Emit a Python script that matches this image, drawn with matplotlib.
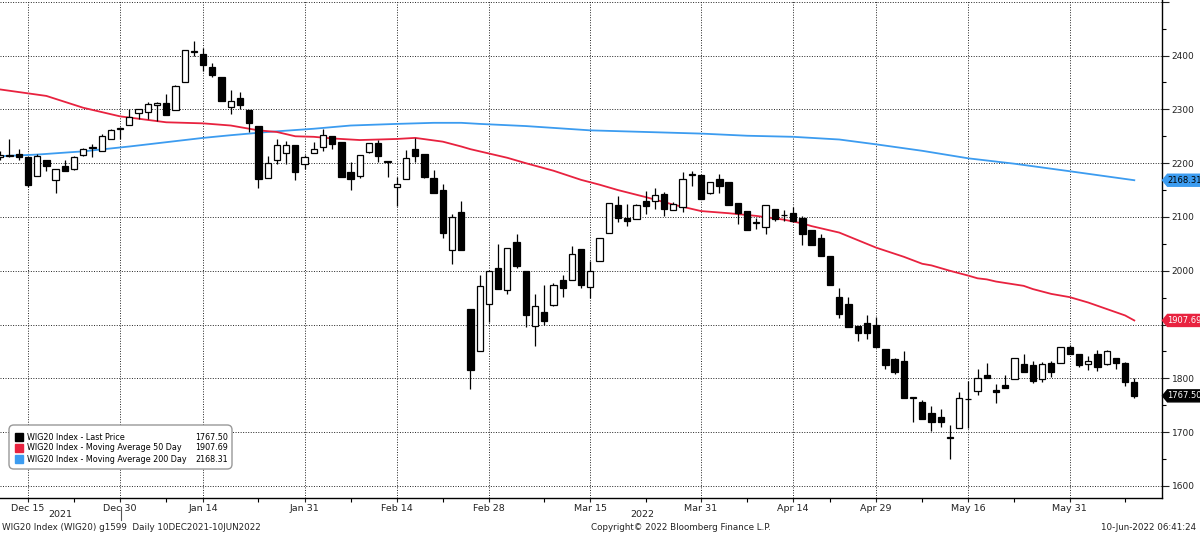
#%%
# WIG20 daily candles with 50 and 200 day moving averages (Bloomberg style)
import matplotlib.pyplot as plt
import numpy as np
from matplotlib.patches import FancyBboxPatch, Rectangle, Polygon
from matplotlib.transforms import IdentityTransform

#%% Data, one candle per trading day (10 Dec 2021 - 9 Jun 2022)
opens = [2212, 2213, 2217, 2212, 2177, 2206, 2169, 2194, 2190, 2216,
         2228, 2222, 2245, 2264, 2271, 2294, 2296, 2309, 2312, 2299,
         2351, 2406, 2403, 2378, 2361, 2304, 2321, 2298, 2270, 2172,
         2205, 2218, 2233, 2199, 2219, 2230, 2250, 2240, 2183, 2176,
         2220, 2237, 2203, 2155, 2170, 2226, 2217, 2173, 2150, 2039,
         2110, 1929, 1850, 1938, 2006, 1965, 2054, 2000, 1898, 1923,
         1937, 1982, 1982, 2040, 1969, 2019, 2071, 2122, 2099, 2096,
         2130, 2130, 2143, 2113, 2118, 2178, 2178, 2144, 2171, 2165,
         2126, 2111, 2089, 2082, 2115, 2103, 2108, 2099, 2076, 2060,
         2028, 1952, 1939, 1898, 1903, 1900, 1854, 1836, 1833, 1764,
         1757, 1735, 1728, 1691, 1708, 1761, 1777, 1807, 1779, 1787,
         1798, 1826, 1824, 1799, 1828, 1829, 1859, 1846, 1826, 1846,
         1826, 1838, 1828, 1793]
highs = [2222, 2245, 2227, 2212, 2217, 2206, 2190, 2205, 2214, 2229,
         2236, 2254, 2264, 2268, 2301, 2301, 2313, 2313, 2328, 2346,
         2411, 2428, 2414, 2386, 2361, 2336, 2332, 2298, 2270, 2214,
         2245, 2241, 2233, 2216, 2240, 2263, 2250, 2240, 2203, 2216,
         2237, 2244, 2204, 2175, 2224, 2246, 2217, 2188, 2162, 2105,
         2129, 1929, 1993, 2000, 2049, 2043, 2068, 2000, 1956, 1973,
         1978, 1992, 2046, 2040, 2019, 2060, 2126, 2139, 2124, 2124,
         2148, 2154, 2146, 2127, 2183, 2186, 2178, 2165, 2180, 2165,
         2126, 2111, 2099, 2122, 2115, 2113, 2118, 2102, 2076, 2069,
         2028, 1968, 1952, 1898, 1918, 1915, 1854, 1838, 1851, 1765,
         1759, 1748, 1743, 1713, 1774, 1796, 1818, 1828, 1789, 1807,
         1837, 1845, 1833, 1831, 1832, 1859, 1862, 1846, 1842, 1852,
         1852, 1838, 1831, 1801]
lows = [2205, 2211, 2205, 2155, 2177, 2185, 2144, 2186, 2188, 2214,
        2211, 2222, 2245, 2245, 2271, 2282, 2282, 2279, 2290, 2299,
        2351, 2400, 2372, 2360, 2316, 2292, 2301, 2258, 2154, 2172,
        2199, 2199, 2169, 2190, 2219, 2223, 2227, 2174, 2151, 2173,
        2218, 2203, 2175, 2120, 2170, 2203, 2173, 2144, 2061, 2012,
        2039, 1781, 1850, 1905, 1966, 1956, 2006, 1895, 1861, 1900,
        1934, 1951, 1982, 1968, 1950, 2019, 2071, 2090, 2084, 2096,
        2106, 2115, 2101, 2113, 2109, 2158, 2134, 2143, 2144, 2123,
        2087, 2076, 2078, 2068, 2093, 2093, 2090, 2048, 2047, 2028,
        1973, 1912, 1896, 1869, 1873, 1859, 1817, 1809, 1764, 1718,
        1725, 1703, 1709, 1651, 1708, 1708, 1769, 1801, 1755, 1782,
        1798, 1811, 1791, 1793, 1803, 1829, 1845, 1821, 1816, 1813,
        1825, 1818, 1785, 1763]
closes = [2216, 2214, 2211, 2160, 2214, 2194, 2190, 2186, 2211, 2227,
          2229, 2251, 2262, 2266, 2286, 2300, 2310, 2312, 2290, 2343,
          2411, 2408, 2383, 2364, 2316, 2316, 2309, 2274, 2170, 2200,
          2233, 2234, 2183, 2211, 2226, 2253, 2235, 2175, 2171, 2216,
          2237, 2213, 2204, 2162, 2210, 2213, 2175, 2144, 2070, 2100,
          2039, 1816, 1971, 2000, 1966, 2043, 2009, 1918, 1934, 1907,
          1973, 1968, 2032, 1973, 1999, 2060, 2126, 2099, 2093, 2122,
          2121, 2140, 2115, 2124, 2171, 2180, 2134, 2165, 2158, 2123,
          2107, 2076, 2090, 2122, 2096, 2104, 2092, 2068, 2047, 2028,
          1973, 1919, 1896, 1884, 1884, 1859, 1825, 1812, 1764, 1764,
          1725, 1718, 1718, 1690, 1764, 1762, 1801, 1801, 1775, 1782,
          1837, 1811, 1796, 1826, 1811, 1859, 1845, 1824, 1833, 1821,
          1850, 1829, 1793, 1767.5]

# Moving averages, read at a set of trading-day positions
ma50_day = [0, 5, 9, 13, 18, 22, 25, 28, 30, 32, 34, 36, 39, 43, 45, 48, 50, 51, 52, 53,
            55, 57, 60, 63, 65, 67, 70, 73, 76, 79, 82, 85, 87, 88, 91, 93, 95, 98, 100,
            101, 103, 105, 106, 107, 108, 111, 112, 114, 116, 118, 120, 122, 123]
ma50_val = [2337, 2325, 2303, 2287, 2276, 2274, 2270, 2261, 2258, 2250, 2249, 2246, 2243,
            2245, 2247, 2240, 2231, 2226, 2222, 2218, 2210, 2200, 2186, 2169, 2160, 2150,
            2137, 2123, 2111, 2107, 2102, 2095, 2088, 2083, 2071, 2057, 2043, 2026, 2013,
            2010, 2000, 1991, 1986, 1984, 1980, 1972, 1966, 1957, 1951, 1941, 1929, 1917,
            1907.69]
ma200_day = [0, 4, 9, 14, 18, 22, 25, 29, 34, 38, 43, 47, 50, 52, 57, 64, 70, 76, 81, 86,
             91, 95, 100, 105, 110, 116, 123]
ma200_val = [2213, 2216, 2222, 2231, 2239, 2247, 2252, 2258, 2264, 2270, 2273, 2275, 2275,
             2273, 2269, 2261, 2258, 2255, 2251, 2249, 2244, 2235, 2223, 2209, 2199, 2185,
             2168.31]

tick_day = [3, 13, 22, 33, 43, 53, 64, 76, 86, 95, 105, 116]
tick_text = ['Dec 15', 'Dec 30', 'Jan 14', 'Jan 31', 'Feb 14', 'Feb 28',
             'Mar 15', 'Mar 31', 'Apr 14', 'Apr 29', 'May 16', 'May 31']
minor_day = [8, 18, 28, 38, 48, 59, 70, 81, 90, 100, 110, 122]

legend_names = ['WIG20 Index - Last Price', 'WIG20 Index - Moving Average 50 Day',
                'WIG20 Index - Moving Average 200 Day']
legend_values = ['1767.50', '1907.69', '2168.31']

red = '#e8223f'
blue = '#3c9cf0'

#%% Figure
plt.rcParams['font.family'] = 'DejaVu Sans'
W, H = 1200.0, 533.0
fig = plt.figure(figsize=(12, 5.33), dpi=100)
ax = fig.add_axes([0.0, 0.0657, 0.9683, 0.9343])

x = np.arange(len(opens))
o = np.array(opens)
c = np.array(closes)

# wicks then bodies
ax.vlines(x, lows, highs, color='black', linewidth=0.9, zorder=3)
up = c >= o
body_low = np.minimum(o, c)
body_h = np.maximum(np.abs(c - o), 1.5)
ax.bar(x[up], body_h[up], bottom=body_low[up], width=0.68, color='white',
       edgecolor='black', linewidth=0.9, zorder=4)
ax.bar(x[~up], body_h[~up], bottom=body_low[~up], width=0.68, color='black',
       edgecolor='black', linewidth=0.9, zorder=4)

# moving averages
ax.plot(ma200_day, ma200_val, color=blue, linewidth=1.3, zorder=2)
ax.plot(ma50_day, ma50_val, color=red, linewidth=1.3, zorder=2)

ax.set_xlim(-0.03, 126.0)
ax.set_ylim(1577.7, 2503.3)

# axes and grid
for s in ['left', 'top']:
    ax.spines[s].set_visible(False)
ax.spines['right'].set_linewidth(1.0)
ax.spines['bottom'].set_linewidth(1.0)

# 1900 sits under the red value tag, so it is left blank
ax.yaxis.tick_right()
ax.set_yticks(np.arange(1600, 2501, 100))
ax.set_yticklabels([str(v) if v not in (1900, 2500) else '' for v in range(1600, 2501, 100)])
ax.set_yticks(np.arange(1650, 2500, 100), minor=True)
ax.tick_params(axis='y', which='major', direction='out', length=5, width=0.8,
               labelsize=6.5, pad=2, colors='#222222')
ax.tick_params(axis='y', which='minor', direction='out', length=3, width=0.8)

ax.set_xticks(tick_day)
ax.set_xticklabels(tick_text)
ax.set_xticks(minor_day, minor=True)
ax.tick_params(axis='x', which='major', direction='out', length=3, width=0.8,
               labelsize=6.8, pad=1, colors='#222222')
ax.tick_params(axis='x', which='minor', direction='out', length=3, width=0.8)

ax.grid(True, which='major', color='#222222', linestyle=(0, (1, 1.6)), linewidth=0.7)
ax.set_axisbelow(True)

# year labels under the date ticks
ax.text(6.5, -0.034, '2021', transform=ax.get_xaxis_transform(), ha='center',
        va='center', fontsize=6.8, color='#222222')
ax.text(69.6, -0.034, '2022', transform=ax.get_xaxis_transform(), ha='center',
        va='center', fontsize=6.8, color='#222222')
ax.plot([13.1, 13.1], [-0.018, -0.045], transform=ax.get_xaxis_transform(),
        color='#555555', linewidth=0.8, clip_on=False)

# last value tags on the right axis
tags = [(2168.31, '2168.31', blue, 'black'),
        (1907.69, '1907.69', red, 'white'),
        (1767.50, '1767.50', 'black', 'white')]
for val, txt, bg, fg in tags:
    yd = ax.transData.transform((0, val))[1]
    pts = [(1162.5, yd), (1167.5, yd + 6), (1200, yd + 6), (1200, yd - 6), (1167.5, yd - 6)]
    fig.add_artist(Polygon(pts, closed=True, transform=IdentityTransform(),
                           fc=bg, ec=bg, zorder=30))
    fig.text(1184.5 / W, yd / H, txt, fontsize=6.0, color=fg, ha='center',
             va='center', zorder=31)

# legend box drawn by hand, in figure pixels
box = FancyBboxPatch((9 / W, 1 - 469 / H), 223 / W, 44 / H, transform=fig.transFigure,
                     boxstyle='round,pad=0,rounding_size=0.004', mutation_aspect=W / H,
                     fc='white', ec='#999999', linewidth=1.0, zorder=20)
fig.add_artist(box)
row_y = [437, 448, 459]
for ry, name, val, col in zip(row_y, legend_names, legend_values, ['black', red, blue]):
    fig.add_artist(Rectangle((15 / W, 1 - (ry + 4) / H), 8 / W, 8 / H,
                             transform=fig.transFigure, fc=col, ec=col, zorder=21))
    fig.text(27 / W, 1 - ry / H, name, fontsize=5.8, va='center', ha='left', zorder=22)
    fig.text(228 / W, 1 - ry / H, val, fontsize=5.8, va='center', ha='right', zorder=22)

# footer
fig.text(2 / W, 1 - 527 / H, 'WIG20 Index (WIG20) g1599  Daily 10DEC2021-10JUN2022',
         fontsize=6.3, va='center', ha='left', color='#222222')
fig.text(591 / W, 1 - 527 / H, 'Copyright\u00a9 2022 Bloomberg Finance L.P.',
         fontsize=6.3, va='center', ha='left', color='#222222')
fig.text(1196 / W, 1 - 527 / H, '10-Jun-2022 06:41:24',
         fontsize=6.3, va='center', ha='right', color='#222222')

fig.savefig('out.png', dpi=100)
